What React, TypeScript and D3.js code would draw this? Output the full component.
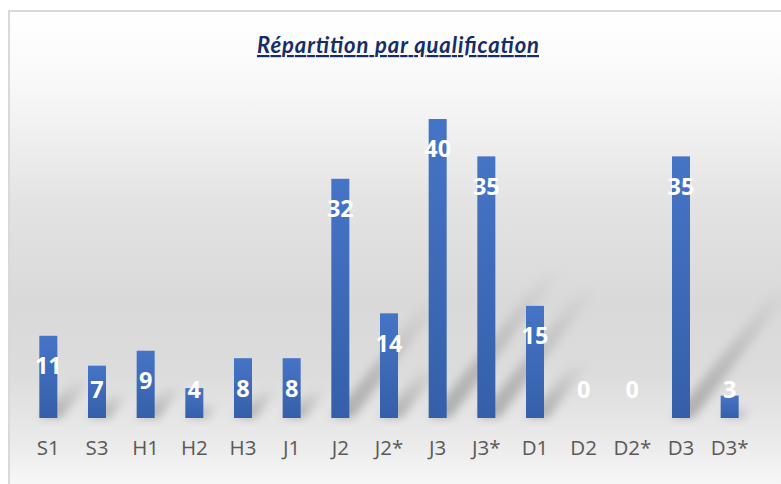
import React from 'react';
import * as d3 from 'd3';

// values
const categories = ['S1', 'S3', 'H1', 'H2', 'H3', 'J1', 'J2', 'J2*', 'J3', 'J3*', 'D1', 'D2', 'D2*', 'D3', 'D3*'];
const counts = [11, 7, 9, 4, 8, 8, 32, 14, 40, 35, 15, 0, 0, 35, 3];
const title = 'Répartition par qualification';

const W = 781;
const H = 484;
const baseY = 418;

const App = () => {
  const x = d3.scaleBand()
    .domain(categories)
    .range([24, 754])
    .paddingInner(0.63)
    .paddingOuter(0.315);

  const y = d3.scaleLinear()
    .domain([0, 40])
    .range([baseY, 119]);

  const data = categories.map((c, i) => ({ cat: c, value: counts[i] }));

  // perspective shadow, leaning up to the right
  const shadowPoints = (d) => {
    const h = baseY - y(d.value);
    const x0 = x(d.cat);
    const x1 = x0 + x.bandwidth();
    const dx = h * 0.38;
    const dy = h * 0.5;
    return [
      [x0, baseY], [x1 + 4, baseY], [x1 + 4 + dx, baseY - dy], [x0 + dx + 4, baseY - dy]
    ].map(p => p.join(',')).join(' ');
  };

  return (
    <svg width={W} height={H} style={{ position: 'absolute', left: 0, top: 0 }}
      fontFamily="'Open Sans', sans-serif">
      <defs>
        <linearGradient id="bg" x1="0" y1="0" x2="0" y2="1">
          <stop offset="0%" stopColor="#ffffff" />
          <stop offset="12%" stopColor="#fafafa" />
          <stop offset="22%" stopColor="#f2f2f2" />
          <stop offset="38%" stopColor="#e3e3e3" />
          <stop offset="58%" stopColor="#d9d9d9" />
          <stop offset="72%" stopColor="#dcdcdc" />
          <stop offset="86%" stopColor="#ebebeb" />
          <stop offset="94%" stopColor="#f7f7f7" />
          <stop offset="100%" stopColor="#ffffff" />
        </linearGradient>
        <linearGradient id="bar" x1="0" y1="0" x2="0" y2="1">
          <stop offset="0%" stopColor="#4674c6" />
          <stop offset="100%" stopColor="#355fa9" />
        </linearGradient>
        <linearGradient id="shadowFade" x1="0" y1="1" x2="0" y2="0">
          <stop offset="0%" stopColor="#000" stopOpacity={0.24} />
          <stop offset="100%" stopColor="#000" stopOpacity={0} />
        </linearGradient>
        <filter id="blur" x="-30%" y="-30%" width="160%" height="160%">
          <feGaussianBlur stdDeviation="4" />
        </filter>
      </defs>

      <rect x={0} y={0} width={W} height={H} fill="#ffffff" />
      <rect x={9} y={11} width={W + 20} height={H + 20} fill="url(#bg)" stroke="#d9d9d9" strokeWidth={2} />

      <text x={398} y={53} textAnchor="middle" fontFamily="Lato, sans-serif" fontSize={22}
        fontWeight="bold" fontStyle="italic" fill="#172d68" textDecoration="underline"
        textLength={282} lengthAdjust="spacing">
        {title}
      </text>

      <g filter="url(#blur)">
        {data.filter(d => d.value > 0).map(d => (
          <polygon key={d.cat} points={shadowPoints(d)} fill="url(#shadowFade)" />
        ))}
      </g>

      <g>
        {data.filter(d => d.value > 0).map(d => (
          <rect key={d.cat} x={x(d.cat)} y={y(d.value)} width={x.bandwidth()}
            height={baseY - y(d.value)} fill="url(#bar)" />
        ))}
      </g>

      <g fill="#ffffff" fontWeight="bold" fontSize={23.5} textAnchor="middle">
        {data.map(d => (
          <text key={d.cat} x={x(d.cat) + x.bandwidth() / 2}
            y={Math.min(y(d.value) + 30, 390)} dy="0.36em">
            {d.value}
          </text>
        ))}
      </g>

      <g fill="#595959" fontSize={20.5} textAnchor="middle">
        {categories.map(c => (
          <text key={c} x={x(c) + x.bandwidth() / 2} y={448} dy="0.36em">{c}</text>
        ))}
      </g>
    </svg>
  );
};

export default App;
